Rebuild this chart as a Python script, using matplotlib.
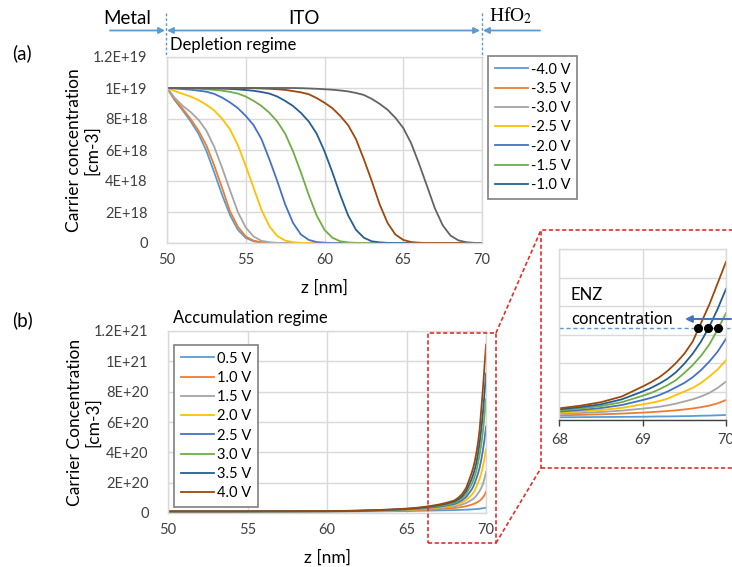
import numpy as np
import matplotlib
matplotlib.use("Agg")
import matplotlib.pyplot as plt
from matplotlib.lines import Line2D
from matplotlib.patches import Rectangle, FancyArrowPatch

W, H = 732, 567

plt.rcParams['font.family'] = ['Lato', 'DejaVu Sans']
plt.rcParams['mathtext.fontset'] = 'stix'

colors = ['#5B9BD5', '#ED7D31', '#A5A5A5', '#FFC000', '#4472C4',
          '#70AD47', '#255E91', '#9E480E', '#636363']

# ---- depletion regime (negative bias), concentration in 1E18 cm-3 ----
z_dep = np.arange(50, 70.01, 0.5)
dep_labels = ['-4.0 V', '-3.5 V', '-3.0 V', '-2.5 V', '-2.0 V', '-1.5 V', '-1.0 V']
n_m40 = [10, 9.2, 8.55, 7.85, 7.05, 5.95, 4.55, 3.1, 1.8, 0.85, 0.33, 0.11, 0.03] + [0] * 28
n_m35 = [10, 9.25, 8.65, 8.0, 7.25, 6.3, 5.0, 3.55, 2.05, 1.05, 0.42, 0.15, 0.04, 0.01] + [0] * 27
n_m30 = [10, 9.35, 8.85, 8.45, 7.95, 7.25, 6.2, 4.85, 3.4, 2.0, 1.0, 0.42, 0.14, 0.05, 0.01] + [0] * 26
n_m25 = [10, 9.8, 9.62, 9.45, 9.22, 8.92, 8.55, 8.02, 7.33, 6.31, 4.98, 3.55, 2.14, 1.08,
         0.45, 0.16, 0.05, 0.01] + [0] * 23
n_m20 = [10, 9.97, 9.93, 9.89, 9.83, 9.76, 9.62, 9.38, 9.07, 8.7, 8.2, 7.6, 6.7, 5.4, 4.0,
         2.5, 1.3, 0.55, 0.2, 0.06, 0.02] + [0] * 20
n_m15 = [10, 10, 9.99, 9.98, 9.95, 9.92, 9.88, 9.83, 9.75, 9.64, 9.45, 9.17, 8.84, 8.4,
         7.84, 7.06, 5.92, 4.56, 3.1, 1.78, 0.85, 0.34, 0.11, 0.04, 0.01] + [0] * 16
n_m10 = [10, 10, 10, 10, 9.99, 9.98, 9.97, 9.96, 9.94, 9.91, 9.87, 9.82, 9.74, 9.64, 9.45,
         9.17, 8.84, 8.4, 7.84, 7.06, 5.92, 4.56, 3.1, 1.78, 0.85, 0.34, 0.11, 0.04, 0.01] + [0] * 12
n_m05 = [10] * 11 + [9.99, 9.97, 9.95, 9.92, 9.88, 9.8, 9.72, 9.6, 9.35, 9.05, 8.7, 8.2,
                     7.6, 6.7, 5.4, 4.0, 2.5, 1.3, 0.55, 0.2, 0.06, 0.02] + [0] * 8
n_000 = [10] * 17 + [9.99, 9.97, 9.95, 9.92, 9.89, 9.84, 9.78, 9.68, 9.55, 9.3, 8.98, 8.6,
                     8.08, 7.42, 6.44, 5.12, 3.7, 2.26, 1.15, 0.48, 0.17, 0.05, 0.01, 0]
dep_series = [n_m40, n_m35, n_m30, n_m25, n_m20, n_m15, n_m10, n_m05, n_000]
dep_ticks = [0, 2e18, 4e18, 6e18, 8e18, 1e19, 1.2e19]
dep_ticklabels = ['0', '2E+18', '4E+18', '6E+18', '8E+18', '1E+19', '1.2E+19']

# ---- accumulation regime (positive bias), concentration in 1E21 cm-3 ----
z_acc = [50, 52, 54, 56, 58, 60, 61, 62, 63, 64, 65, 65.5, 66, 66.5, 67, 67.5,
         68, 68.25, 68.5, 68.75, 69, 69.1, 69.2, 69.3, 69.4, 69.5, 69.6, 69.7, 69.8, 69.9, 70]
acc_labels = ['0.5 V', '1.0 V', '1.5 V', '2.0 V', '2.5 V', '3.0 V', '3.5 V', '4.0 V']
n_05 = [0.010, 0.010, 0.010, 0.010, 0.010, 0.010, 0.011, 0.011, 0.011, 0.012, 0.013, 0.014,
        0.015, 0.016, 0.017, 0.018, 0.019, 0.020, 0.021, 0.022, 0.023, 0.024, 0.025, 0.025,
        0.026, 0.027, 0.028, 0.030, 0.031, 0.033, 0.035]
n_10 = [0.010, 0.010, 0.010, 0.010, 0.010, 0.011, 0.011, 0.012, 0.013, 0.015, 0.017, 0.018,
        0.020, 0.022, 0.025, 0.029, 0.033, 0.036, 0.040, 0.045, 0.052, 0.055, 0.059, 0.063,
        0.068, 0.074, 0.081, 0.090, 0.101, 0.117, 0.140]
n_15 = [0.010, 0.010, 0.010, 0.010, 0.010, 0.011, 0.011, 0.012, 0.014, 0.016, 0.019, 0.021,
        0.024, 0.027, 0.031, 0.037, 0.044, 0.049, 0.056, 0.066, 0.080, 0.086, 0.093, 0.103,
        0.115, 0.130, 0.145, 0.165, 0.190, 0.225, 0.270]
n_20 = [0.010, 0.010, 0.010, 0.010, 0.011, 0.011, 0.012, 0.013, 0.015, 0.017, 0.021, 0.023,
        0.027, 0.031, 0.036, 0.043, 0.052, 0.060, 0.070, 0.085, 0.110, 0.120, 0.133, 0.150,
        0.175, 0.200, 0.225, 0.260, 0.305, 0.355, 0.420]
n_25 = [0.010, 0.010, 0.010, 0.010, 0.011, 0.011, 0.012, 0.014, 0.016, 0.019, 0.023, 0.026,
        0.030, 0.035, 0.041, 0.049, 0.059, 0.070, 0.084, 0.105, 0.140, 0.155, 0.175, 0.200,
        0.230, 0.260, 0.300, 0.350, 0.410, 0.480, 0.570]
n_30 = [0.010, 0.010, 0.010, 0.010, 0.011, 0.012, 0.013, 0.014, 0.017, 0.021, 0.025, 0.029,
        0.033, 0.039, 0.046, 0.055, 0.067, 0.080, 0.098, 0.125, 0.170, 0.190, 0.215, 0.245,
        0.280, 0.330, 0.385, 0.450, 0.530, 0.635, 0.750]
n_35 = [0.010, 0.010, 0.010, 0.011, 0.011, 0.012, 0.013, 0.015, 0.018, 0.022, 0.027, 0.031,
        0.036, 0.043, 0.051, 0.061, 0.075, 0.090, 0.110, 0.145, 0.200, 0.225, 0.255, 0.290,
        0.335, 0.395, 0.465, 0.550, 0.655, 0.780, 0.920]
n_40 = [0.010, 0.010, 0.010, 0.011, 0.012, 0.013, 0.014, 0.016, 0.019, 0.023, 0.029, 0.033,
        0.039, 0.046, 0.055, 0.067, 0.082, 0.100, 0.125, 0.165, 0.235, 0.265, 0.300, 0.345,
        0.400, 0.465, 0.550, 0.680, 0.810, 0.960, 1.110]
acc_series = [n_05, n_10, n_15, n_20, n_25, n_30, n_35, n_40]
acc_ticks = [0, 2e20, 4e20, 6e20, 8e20, 1e21, 1.2e21]
acc_ticklabels = ['0', '2E+20', '4E+20', '6E+20', '8E+20', '1E+21', '1.2E+21']

# ENZ crossing points near the HfO2 interface
enz_level = 6.48e20
enz_z = [69.67, 69.79, 69.91]


def px(x, y):
    return x / W, 1 - y / H


def excel_axes(ax):
    for s in ax.spines.values():
        s.set_color('#D9D9D9')
        s.set_linewidth(1)
    ax.grid(True, color='#D9D9D9', lw=1)
    ax.set_axisbelow(True)
    ax.tick_params(length=0, labelsize=10.5, colors='#404040')


def excel_legend(ax, handles, labels, corner):
    leg = ax.legend(handles, labels, loc='upper left',
                    bbox_to_anchor=px(*corner), bbox_transform=fig.transFigure,
                    fontsize=10.5, frameon=True, fancybox=False, edgecolor='#808080',
                    handlelength=2.3, handletextpad=0.2, labelspacing=0.36,
                    borderpad=0.45, borderaxespad=0, framealpha=1)
    leg.get_frame().set_linewidth(1.2)
    return leg


fig = plt.figure(figsize=(W / 100, H / 100), dpi=100)

# ---- panel (a) ----
ax_a = fig.add_axes([167 / W, 1 - 243 / H, 315 / W, 186 / H])
excel_axes(ax_a)
for vals, c in zip(dep_series, colors):
    ax_a.plot(z_dep, np.array(vals) * 1e18, color=c, lw=1.3)
ax_a.set_xlim(50, 70)
ax_a.set_ylim(0, 1.2e19)
ax_a.set_xticks([50, 55, 60, 65, 70])
ax_a.set_yticks(dep_ticks)
ax_a.set_yticklabels(dep_ticklabels)
ax_a.tick_params(axis='y', pad=14)
ax_a.tick_params(axis='x', pad=7)
ax_a.set_xlabel('z [nm]', fontsize=12.5, labelpad=9)
ax_a.set_ylabel('Carrier concentration\n[cm-3]', fontsize=12.5, labelpad=-5,
                linespacing=1.15)
excel_legend(ax_a, ax_a.lines[:7], dep_labels, (488, 56))

# ---- panel (b) ----
ax_b = fig.add_axes([168 / W, 1 - 513 / H, 318 / W, 182 / H])
excel_axes(ax_b)
for vals, c in zip(acc_series, colors):
    ax_b.plot(z_acc, np.array(vals) * 1e21, color=c, lw=1.3)
ax_b.set_xlim(50, 70)
ax_b.set_ylim(0, 1.2e21)
ax_b.set_xticks([50, 55, 60, 65, 70])
ax_b.set_yticks(acc_ticks)
ax_b.set_yticklabels(acc_ticklabels)
ax_b.tick_params(axis='y', pad=14)
ax_b.tick_params(axis='x', pad=7)
ax_b.set_xlabel('z [nm]', fontsize=12.5, labelpad=9)
ax_b.set_ylabel('Carrier Concentration\n[cm-3]', fontsize=12.5, labelpad=-5,
                linespacing=1.15)
excel_legend(ax_b, ax_b.lines, acc_labels, (174, 345))

# ---- zoomed view of the interface region ----
ax_z = fig.add_axes([559.3 / W, 1 - 420 / H, 166.7 / W, 171 / H])
excel_axes(ax_z)
for vals, c in zip(acc_series, colors):
    ax_z.plot(z_acc, np.array(vals) * 1e21, color=c, lw=1.3)
ax_z.set_xlim(68, 70)
ax_z.set_ylim(0, 1.2e21)
ax_z.set_xticks([68, 69, 70])
ax_z.set_yticks(acc_ticks)
ax_z.set_yticklabels([])
ax_z.spines['bottom'].set_color('#404040')
ax_z.tick_params(axis='x', length=4, width=1, color='#404040', pad=5)
ax_z.plot([68, 70.15], [enz_level, enz_level], color='#5B9BD5', lw=1,
          dashes=(3, 2), clip_on=False)
ax_z.plot(enz_z, [enz_level] * len(enz_z), 'o', color='black', ms=5.5, clip_on=False)

# ---- layer annotations ----
lc = '#5B9BD5'
for x in (166, 481.5):
    fig.add_artist(Line2D([x / W, x / W], [1 - 13 / H, 1 - 57 / H], color=lc,
                          lw=1, dashes=(2, 1.5)))
for x0, x1, style in [(110, 165, '-|>'), (167, 480, '<|-|>'), (540, 483, '-|>')]:
    fig.add_artist(FancyArrowPatch(px(x0, 30.5), px(x1, 30.5), arrowstyle=style,
                                   mutation_scale=9, color=lc, lw=1.3,
                                   shrinkA=0, shrinkB=0, transform=fig.transFigure))
fig.text(*px(127, 18), 'Metal', fontsize=13.5, ha='center', va='center')
fig.text(*px(304, 19), 'ITO', fontsize=13.5, ha='center', va='center')
fig.text(*px(489, 16), r'HfO$_2$', fontsize=14, ha='left', va='center',
         family='Liberation Serif')
fig.text(*px(170, 45), 'Depletion regime', fontsize=12, ha='left', va='center')
fig.text(*px(173, 318), 'Accumulation regime', fontsize=12, ha='left', va='center')
fig.text(*px(12, 53), '(a)', fontsize=13.5, ha='left', va='center')
fig.text(*px(12, 320), '(b)', fontsize=13.5, ha='left', va='center')

# ---- zoom indicator ----
rc = '#E0302A'
fig.add_artist(Rectangle(px(428, 543), 68 / W, 210 / H, fill=False, ec=rc, lw=1.2,
                         ls=(0, (2.5, 1.5)), transform=fig.transFigure))
fig.add_artist(Rectangle(px(541, 468), 210 / W, 238 / H, fill=False, ec=rc, lw=1.2,
                         ls=(0, (2.5, 1.5)), transform=fig.transFigure))
for (x0, y0), (x1, y1) in [((496, 333), (541, 230)), ((496, 543), (541, 468))]:
    fig.add_artist(Line2D([x0 / W, x1 / W], [1 - y0 / H, 1 - y1 / H], color=rc,
                          lw=1.2, ls=(0, (2.5, 1.5))))

fig.text(*px(571, 295), 'ENZ', fontsize=12, ha='left', va='center')
fig.text(*px(571, 319), 'concentration', fontsize=12, ha='left', va='center')
fig.add_artist(FancyArrowPatch(px(731, 319), px(685, 319), arrowstyle='-|>',
                               mutation_scale=10, color='#4472C4', lw=1.5,
                               shrinkA=0, shrinkB=0, transform=fig.transFigure))

fig.savefig('out.png', dpi=100)
